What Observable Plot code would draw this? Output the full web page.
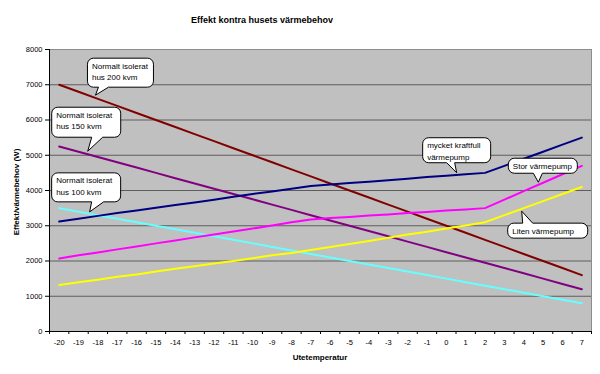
<!DOCTYPE html>
<html><head><meta charset="utf-8">
<script src="https://cdn.jsdelivr.net/npm/d3@7"></script>
<script src="https://cdn.jsdelivr.net/npm/@observablehq/plot@0.6"></script>
<style>
body{margin:0;background:#fff;}
#chart svg{display:block;}
</style>
</head><body><div id="chart"></div>
<script>
// ---- data ----
const temps = [-20,-19,-18,-17,-16,-15,-14,-13,-12,-11,-10,-9,-8,-7,-6,-5,-4,-3,-2,-1,0,1,2,3,4,5,6,7];
const hus200 = [7000,6800,6600,6400,6200,6000,5800,5600,5400,5200,5000,4800,4600,4400,4200,4000,3800,3600,3400,3200,3000,2800,2600,2400,2200,2000,1800,1600];
const hus150 = [5250,5100,4950,4800,4650,4500,4350,4200,4050,3900,3750,3600,3450,3300,3150,3000,2850,2700,2550,2400,2250,2100,1950,1800,1650,1500,1350,1200];
const hus100 = [3500,3400,3300,3200,3100,3000,2900,2800,2700,2600,2500,2400,2300,2200,2100,2000,1900,1800,1700,1600,1500,1400,1300,1200,1100,1000,900,800];
const kraftfull = [3120,3200,3280,3360,3430,3510,3590,3660,3740,3820,3900,3970,4050,4130,4170,4210,4250,4290,4330,4380,4420,4460,4500,4700,4900,5100,5300,5500];
const stor = [2070,2160,2240,2330,2410,2500,2580,2670,2750,2840,2920,3010,3100,3180,3220,3250,3290,3320,3360,3390,3430,3460,3500,3740,3980,4220,4460,4700];
const liten = [1320,1400,1470,1550,1620,1700,1780,1850,1930,2000,2080,2160,2230,2310,2400,2480,2570,2660,2750,2830,2920,3010,3100,3300,3500,3700,3900,4100];
const seriesNames = ["hus 200 kvm","hus 150 kvm","hus 100 kvm","mycket kraftfull värmepump","Stor värmepump","Liten värmepump"];
const seriesColors = ["#800000","#800080","#66ffff","#000080","#ff00ff","#ffff00"];
const yTicks = [0,1000,2000,3000,4000,5000,6000,7000,8000];
const xBounds = [-20.5,-19.5,-18.5,-17.5,-16.5,-15.5,-14.5,-13.5,-12.5,-11.5,-10.5,-9.5,-8.5,-7.5,-6.5,-5.5,-4.5,-3.5,-2.5,-1.5,-0.5,0.5,1.5,2.5,3.5,4.5,5.5,6.5,7.5];
const titleText = "Effekt kontra husets värmebehov";
const xTitle = "Utetemperatur";
const yTitle = "Effekt/värmebehov (W)";
const calloutLines = [["Normalt isolerat","hus 200 kvm"],["Normalt isolerat","hus 150 kvm"],["Normalt isolerat","hus 100 kvm"],["mycket kraftfull","värmepump"],["Stor värmepump"],["Liten värmepump"]];
const calloutTipT = [-18.1,-18.5,-18.4,0.56,4.78,3.92];
const calloutTipV = [6690,5100,3380,4490,4220,3400];

// ---- layout of callouts (pixels relative to tip) ----
const calloutLayout = [
  {dx:-8, dy:-37, w:66, h:29, b0:11, b1:21, side:"bottom"},
  {dx:-36, dy:-44, w:69, h:30, b0:40, b1:51, side:"bottom"},
  {dx:-38, dy:-39, w:69, h:29, b0:40, b1:52, side:"bottom"},
  {dx:-34, dy:-35, w:68, h:25, b0:24, b1:32, side:"bottom"},
  {dx:-30, dy:-24, w:69, h:15, b0:25, b1:34, side:"bottom"},
  {dx:-14, dy:12, w:80, h:15, b0:15, b1:25, side:"top"}
];

const rows = seriesNames.flatMap((s, i) => temps.map((t, j) => ({series: s, t, v: [hus200,hus150,hus100,kraftfull,stor,liten][i][j]})));
const FONT = "Arial, 'Liberation Sans', sans-serif";

const plot = Plot.plot({
  width: 600, height: 374,
  marginTop: 49, marginBottom: 43, marginLeft: 49, marginRight: 9,
  style: {fontFamily: FONT, fontSize: "7.5px", background: "white", color: "black"},
  x: {type: "linear", domain: [-20.5, 7.5]},
  y: {domain: [0, 8000]},
  color: {domain: seriesNames, range: seriesColors},
  marks: [
    Plot.frame({fill: "#c0c0c0", stroke: "#8c8c8c"}),
    Plot.ruleY(yTicks.filter(d => d > 0 && d < 8000), {stroke: "#5e5e5e", strokeWidth: 1}),
    Plot.line(rows, {x: "t", y: "v", z: "series", stroke: "series", strokeWidth: 2}),
    Plot.ruleX([-20.5], {stroke: "#000"}),
    Plot.ruleY([0], {stroke: "#000"}),
    Plot.axisY(yTicks, {tickSize: 4, tickPadding: 3, label: null, tickFormat: d => String(d)}),
    Plot.axisX(temps, {tickSize: 0, tickPadding: 8, label: null, tickFormat: d => String(d)}),
    Plot.axisX(xBounds, {tickSize: 3, label: null, tickFormat: () => ""})
  ]
});
document.getElementById("chart").appendChild(plot);

const svg = d3.select(plot);
const sx = plot.scale("x"), sy = plot.scale("y");

svg.append("text").attr("x", 262).attr("y", 23).attr("text-anchor", "middle")
  .attr("font-family", FONT).attr("font-size", 9).attr("font-weight", "bold").text(titleText);
svg.append("text").attr("x", 320).attr("y", 360).attr("text-anchor", "middle")
  .attr("font-family", FONT).attr("font-size", 8).attr("font-weight", "bold").text(xTitle);
svg.append("text").attr("transform", "translate(19,192) rotate(-90)").attr("text-anchor", "middle")
  .attr("font-family", FONT).attr("font-size", 8).attr("font-weight", "bold").text(yTitle);

function calloutPath(L, T, W, H, r, tx, ty, b0, b1, side) {
  const R = L + W, B = T + H;
  let p = `M${L + r},${T}`;
  if (side === "top") p += `L${L + b0},${T}L${tx},${ty}L${L + b1},${T}`;
  p += `L${R - r},${T}A${r},${r} 0 0 1 ${R},${T + r}L${R},${B - r}A${r},${r} 0 0 1 ${R - r},${B}`;
  if (side === "bottom") p += `L${L + b1},${B}L${tx},${ty}L${L + b0},${B}`;
  p += `L${L + r},${B}A${r},${r} 0 0 1 ${L},${B - r}L${L},${T + r}A${r},${r} 0 0 1 ${L + r},${T}Z`;
  return p;
}

const g = svg.append("g");
calloutLines.forEach((lines, i) => {
  const c = calloutLayout[i];
  const tx = sx.apply(calloutTipT[i]), ty = sy.apply(calloutTipV[i]);
  const L = tx + c.dx, T = ty + c.dy;
  g.append("path").attr("d", calloutPath(L, T, c.w, c.h, 6, tx, ty, c.b0, c.b1, c.side))
    .attr("fill", "white").attr("stroke", "black").attr("stroke-width", 1);
  lines.forEach((s, k) => {
    g.append("text").attr("x", L + 4.5).attr("y", T + 10.5 + k * 11.5)
      .attr("text-anchor", "start")
      .attr("font-family", FONT).attr("font-size", 8).attr("fill", "black").text(s);
  });
});
</script>
</body></html>
